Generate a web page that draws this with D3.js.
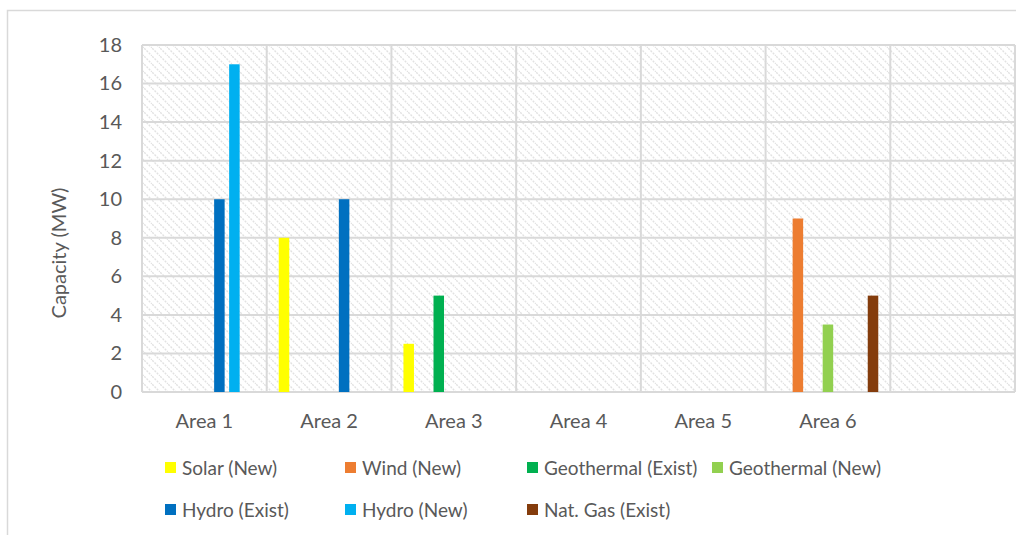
<!DOCTYPE html>
<html>
<head>
<meta charset="utf-8">
<script src="https://cdn.jsdelivr.net/npm/d3@7"></script>
<style>
  html, body { margin: 0; padding: 0; background: #fff; }
  svg { display: block; }
  text { font-family: Lato, "Open Sans", sans-serif; fill: #595959; }
</style>
</head>
<body>
<svg id="chart" width="1016" height="535"></svg>
<script>
// Categories on the x axis (last band is left empty)
const areas = ["Area 1", "Area 2", "Area 3", "Area 4", "Area 5", "Area 6", ""];

// Series names and colours
const seriesNames = ["Solar (New)", "Wind (New)", "Geothermal (Exist)", "Geothermal (New)",
                     "Hydro (Exist)", "Hydro (New)", "Nat. Gas (Exist)"];
const seriesColors = ["#FFFF00", "#ED7D31", "#00B050", "#92D050", "#0070C0", "#00B0F0", "#843C0C"];

// Capacity (MW) per series, one value per area
const solarNew   = [0, 8, 2.5, 0, 0, 0, 0];
const windNew    = [0, 0, 0, 0, 0, 9, 0];
const geoExist   = [0, 0, 5, 0, 0, 0, 0];
const geoNew     = [0, 0, 0, 0, 0, 3.5, 0];
const hydroExist = [10, 10, 0, 0, 0, 0, 0];
const hydroNew   = [17, 0, 0, 0, 0, 0, 0];
const natGas     = [0, 0, 0, 0, 0, 5, 0];

const yTicks = [0, 2, 4, 6, 8, 10, 12, 14, 16, 18];

const seriesValues = [solarNew, windNew, geoExist, geoNew, hydroExist, hydroNew, natGas];

const svg = d3.select("#chart");

// Outer chart frame
svg.append("rect")
  .attr("x", 7.5).attr("y", 10.5)
  .attr("width", 1030).attr("height", 560)
  .attr("fill", "#fff").attr("stroke", "#d9d9d9").attr("stroke-width", 1.5);

const plot = { left: 142, top: 45, right: 1015, bottom: 392 };

const x0 = d3.scaleBand().domain(areas).range([plot.left, plot.right]).paddingInner(0).paddingOuter(0);
const x1 = d3.scaleBand().domain(seriesNames).range([0, x0.bandwidth()])
  .paddingInner(0.3).paddingOuter(0.8);
const y = d3.scaleLinear().domain([0, 18]).range([plot.bottom, plot.top]);

// Diagonal hatch fill for the plot background
const defs = svg.append("defs");
const pat = defs.append("pattern")
  .attr("id", "hatch").attr("patternUnits", "userSpaceOnUse")
  .attr("width", 8).attr("height", 8);
pat.append("rect").attr("width", 8).attr("height", 8).attr("fill", "#fff");
pat.append("path")
  .attr("d", "M-2,-2 L10,10 M-2,6 L2,10 M6,-2 L10,2")
  .attr("stroke", "#e2e2e2").attr("stroke-width", 1.4)
  .attr("stroke-dasharray", "2,1.2");

svg.append("rect")
  .attr("x", plot.left).attr("y", plot.top)
  .attr("width", plot.right - plot.left).attr("height", plot.bottom - plot.top)
  .attr("fill", "url(#hatch)");

// Horizontal gridlines
svg.append("g")
  .selectAll("line").data(yTicks).join("line")
  .attr("x1", plot.left).attr("x2", plot.right)
  .attr("y1", d => y(d)).attr("y2", d => y(d))
  .attr("stroke", "#d9d9d9").attr("stroke-width", 2);

// Vertical gridlines at band edges
const edges = areas.map(a => x0(a)).concat([plot.right]);
svg.append("g")
  .selectAll("line").data(edges).join("line")
  .attr("x1", d => d).attr("x2", d => d)
  .attr("y1", plot.top).attr("y2", plot.bottom)
  .attr("stroke", "#d9d9d9").attr("stroke-width", 2);

// Bars
const groups = svg.append("g").selectAll("g").data(areas).join("g")
  .attr("transform", d => `translate(${x0(d)},0)`);
groups.selectAll("rect")
  .data((a, i) => seriesNames.map((s, k) => ({ s, v: seriesValues[k][i], c: seriesColors[k] })))
  .join("rect")
  .filter(d => d.v > 0)
  .attr("x", d => x1(d.s))
  .attr("width", x1.bandwidth())
  .attr("y", d => y(d.v))
  .attr("height", d => y(0) - y(d.v))
  .attr("fill", d => d.c);

// Y axis labels
const yAxis = svg.append("g")
  .attr("transform", `translate(${plot.left},0)`)
  .call(d3.axisLeft(y).tickValues(yTicks).tickSize(0).tickPadding(20));
yAxis.select(".domain").remove();
yAxis.selectAll("text")
  .style("font-family", "Lato, 'Open Sans', sans-serif")
  .style("font-size", "20px").attr("fill", "#595959");

// X axis labels
const xAxis = svg.append("g")
  .attr("transform", `translate(0,${plot.bottom})`)
  .call(d3.axisBottom(x0).tickSize(0).tickPadding(22));
xAxis.select(".domain").remove();
xAxis.selectAll("text")
  .style("font-family", "Lato, 'Open Sans', sans-serif")
  .style("font-size", "20px").attr("fill", "#595959");

// Y axis title
svg.append("text")
  .attr("transform", "translate(66,253) rotate(-90)")
  .attr("text-anchor", "middle")
  .style("font-size", "20px")
  .text("Capacity (MW)");

// Legend
const legendPos = [
  [165, 468], [345, 468], [527, 468], [712, 468],
  [165, 510], [345, 510], [527, 510]
];
const legend = svg.append("g").selectAll("g").data(seriesNames).join("g")
  .attr("transform", (d, i) => `translate(${legendPos[i][0]},${legendPos[i][1]})`);
legend.append("rect")
  .attr("x", 0).attr("y", -6).attr("width", 11).attr("height", 11)
  .attr("fill", (d, i) => seriesColors[i]);
legend.append("text")
  .attr("x", 17).attr("y", 0).attr("dy", "0.35em")
  .style("font-size", "19px")
  .text(d => d);
</script>
</body>
</html>
